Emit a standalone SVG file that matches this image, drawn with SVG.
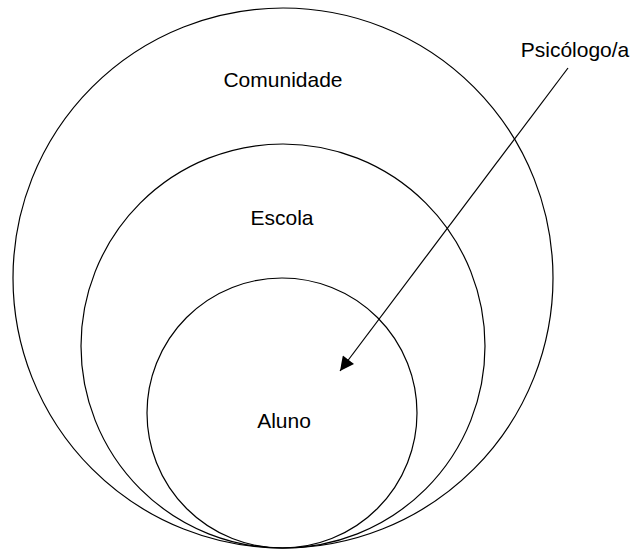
<svg xmlns="http://www.w3.org/2000/svg" width="633" height="549" viewBox="0 0 633 549">
  <style>
    .ring { fill: none; stroke: #000; stroke-width: 1.2; }
    .label { font-family: "Liberation Sans", Arial, sans-serif; font-size: 21px; fill: #000; }
    .link { stroke: #000; stroke-width: 1.2; fill: none; }
  </style>
  <defs>
    <marker id="arrowhead" viewBox="0 0 10 10" refX="10" refY="5" markerWidth="15" markerHeight="14" markerUnits="userSpaceOnUse" orient="auto">
      <path d="M0,0 L10,5 L0,10 Z" fill="#000"/>
    </marker>
  </defs>
  <rect width="633" height="549" fill="#fff"/>

  <!-- three nested circles, all touching at the bottom -->
  <g id="comunidade">
    <circle class="ring" cx="283" cy="278" r="270"/>
    <text class="label" x="283" y="87" text-anchor="middle">Comunidade</text>
  </g>

  <g id="escola">
    <circle class="ring" cx="283" cy="346" r="202"/>
    <text class="label" x="282" y="225" text-anchor="middle">Escola</text>
  </g>

  <g id="aluno">
    <circle class="ring" cx="282" cy="413" r="135"/>
    <text class="label" x="284" y="428" text-anchor="middle">Aluno</text>
  </g>

  <g id="psicologo">
    <text class="label" x="575" y="57" text-anchor="middle">Psicólogo/a</text>
  </g>

  <g id="connectors">
    <line class="link" x1="568" y1="68" x2="340" y2="371" marker-end="url(#arrowhead)"/>
  </g>
</svg>
